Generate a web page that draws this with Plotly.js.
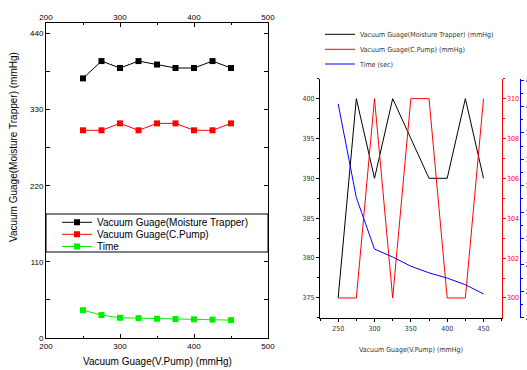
<!DOCTYPE html>
<html><head><meta charset="utf-8">
<script src="https://cdn.plot.ly/plotly-3.0.1.min.js"></script>
<style>html,body{margin:0;padding:0;background:#fff}#chart{width:527px;height:370px}</style>
</head><body><div id="chart"></div>
<script>
// ---- data ----
const vPump = [250, 275, 300, 325, 350, 375, 400, 425, 450];
const moistureTrapper = [375, 400, 390, 400, 395, 390, 390, 400, 390];
const cPump = [300, 300, 310, 300, 310, 310, 300, 300, 310];
const timeSec = [40.2, 33.1, 29.2, 28.6, 27.9, 27.4, 27.0, 26.5, 25.8];
const leftNames = ['Vacuum Guage(Moisture Trapper)', 'Vacuum Guage(C.Pump)', 'Time'];
const rightNames = ['Vacuum Guage(Moisture Trapper) (mmHg)', 'Vacuum Guage(C.Pump) (mmHg)', 'Time (sec)'];
const xTitle = 'Vacuum Guage(V.Pump) (mmHg)';
const yTitleLeft = 'Vacuum Guage(Moisture Trapper) (mmHg)';

// ---- layout helpers ----
const W = 527, H = 370;
const px = v => v / W, py = v => 1 - v / H;
const SANS = 'Liberation Sans, Arial, sans-serif';
const NARROW = 'Liberation Sans Narrow, Arial Narrow, DejaVu Sans Condensed, sans-serif';
const leftColors = ['#000000', '#ff0000', '#00ee00'];
const rightColors = ['#000000', '#ff0000', '#0000ff'];
const seriesL = [moistureTrapper, cPump, timeSec];

const traces = [];
seriesL.forEach((s, i) => {
  traces.push({
    x: vPump, y: s, type: 'scatter', mode: 'lines+markers', name: leftNames[i],
    xaxis: 'x', yaxis: 'y', legend: i === 0 ? 'legend' : 'legend' + (i + 1),
    line: {color: leftColors[i], width: 1},
    marker: {symbol: 'square', size: 6, color: leftColors[i]},
    hoverinfo: 'skip'
  });
});
// dummy trace so the top axis of the left chart is drawn
traces.push({x: [200, 500], y: [0, 0], xaxis: 'x3', yaxis: 'y', mode: 'markers',
  marker: {opacity: 0}, showlegend: false, hoverinfo: 'skip'});
const rAxes = ['y2', 'y3', 'y4'];
seriesL.forEach((s, i) => {
  traces.push({
    x: vPump, y: s, type: 'scatter', mode: 'lines', name: rightNames[i],
    xaxis: 'x2', yaxis: rAxes[i], legend: 'legend' + (i + 4),
    line: {color: rightColors[i], width: 1}, hoverinfo: 'skip'
  });
});

const baseAx = {showgrid: false, zeroline: false, showline: true, linecolor: '#000', linewidth: 1, tickcolor: '#000'};
const layout = {
  width: W, height: H, margin: {l: 0, r: 0, t: 0, b: 0},
  paper_bgcolor: '#fff', plot_bgcolor: 'rgba(0,0,0,0)',
  font: {family: SANS, color: '#000', size: 8},
  xaxis: Object.assign({}, baseAx, {domain: [px(46), px(268)], range: [200, 500], anchor: 'y',
    tick0: 200, dtick: 100, ticks: 'inside', ticklen: 4, mirror: 'allticks',
    minor: {tick0: 200, dtick: 50, ticks: 'inside', ticklen: 2, tickcolor: '#000'},
    tickfont: {size: 8, family: SANS}}),
  xaxis3: {overlaying: 'x', side: 'top', range: [200, 500], anchor: 'y', tick0: 200, dtick: 100,
    showline: false, ticks: '', showgrid: false, zeroline: false, tickfont: {size: 8, family: SANS}},
  yaxis: Object.assign({}, baseAx, {domain: [py(338), py(23)], range: [0, 455], anchor: 'x',
    tick0: 0, dtick: 110, ticks: 'inside', ticklen: 4, mirror: 'allticks',
    minor: {tick0: 0, dtick: 55, ticks: 'inside', ticklen: 2, tickcolor: '#000'},
    tickfont: {size: 8, family: SANS}}),
  xaxis2: Object.assign({}, baseAx, {domain: [px(320), px(501.7)], range: [225, 475], anchor: 'y2',
    tick0: 250, dtick: 50, ticks: 'outside', ticklen: 3, linewidth: 1.5,
    minor: {tick0: 225, dtick: 25, ticks: 'outside', ticklen: 2, tickcolor: '#000'},
    tickfont: {size: 7, family: NARROW, color: '#333'}}),
  yaxis2: Object.assign({}, baseAx, {domain: [py(317.7), py(78.5)], range: [372.5, 402.53], anchor: 'x2',
    tick0: 375, dtick: 5, ticks: 'outside', ticklen: 3,
    minor: {tick0: 372.5, dtick: 2.5, ticks: 'outside', ticklen: 2, tickcolor: '#000'},
    tickfont: {size: 7, family: NARROW, color: '#333'}}),
  yaxis3: Object.assign({}, baseAx, {overlaying: 'y2', side: 'right', anchor: 'x2', range: [299.01, 311.01],
    tick0: 300, dtick: 2, ticks: 'outside', ticklen: 3, linecolor: '#ff0000', tickcolor: '#ff0000',
    minor: {tick0: 299, dtick: 1, ticks: 'outside', ticklen: 2, tickcolor: '#ff0000'},
    tickfont: {size: 7, family: NARROW, color: '#ff0000'}}),
  yaxis4: Object.assign({}, baseAx, {overlaying: 'y2', side: 'right', anchor: 'free', position: px(520),
    range: [24, 42.12], tick0: 24, dtick: 2, ticks: 'outside', ticklen: 3, linecolor: '#0000ff', tickcolor: '#0000ff',
    minor: {tick0: 24, dtick: 1, ticks: 'outside', ticklen: 2, tickcolor: '#0000ff'},
    tickfont: {size: 7, family: NARROW, color: '#0000ff'}}),
  shapes: [{type: 'rect', xref: 'paper', yref: 'paper', x0: px(46), x1: px(268), y0: py(252), y1: py(214),
    fillcolor: '#ffffff', line: {color: '#000', width: 1}, layer: 'above'}],
  annotations: [
    {text: yTitleLeft, xref: 'paper', yref: 'paper', x: px(13.5), y: py(147.5), textangle: -90,
      showarrow: false, xanchor: 'center', yanchor: 'middle', font: {size: 10, family: SANS}},
    {text: xTitle, xref: 'paper', yref: 'paper', x: px(157), y: py(361.7),
      showarrow: false, xanchor: 'center', yanchor: 'middle', font: {size: 10, family: SANS}},
    {text: xTitle, xref: 'paper', yref: 'paper', x: px(410.8), y: py(350),
      showarrow: false, xanchor: 'center', yanchor: 'middle', font: {size: 7, family: NARROW, color: '#333'}}
  ],
  showlegend: true
};
const leftRows = [222.3, 234.3, 246.5];
const rightRows = [34.3, 49.3, 64];
for (let i = 0; i < 3; i++) {
  layout[i === 0 ? 'legend' : 'legend' + (i + 1)] = {x: px(57), xanchor: 'left', y: py(leftRows[i]), yanchor: 'middle',
    bgcolor: 'rgba(0,0,0,0)', borderwidth: 0, font: {size: 10, family: SANS}, itemwidth: 30};
  layout['legend' + (i + 4)] = {x: px(320), xanchor: 'left', y: py(rightRows[i]), yanchor: 'middle',
    bgcolor: 'rgba(0,0,0,0)', borderwidth: 0, font: {size: 7, family: NARROW, color: '#333'}, itemwidth: 30};
}
Plotly.newPlot('chart', traces, layout, {staticPlot: true, displayModeBar: false});
</script></body></html>
